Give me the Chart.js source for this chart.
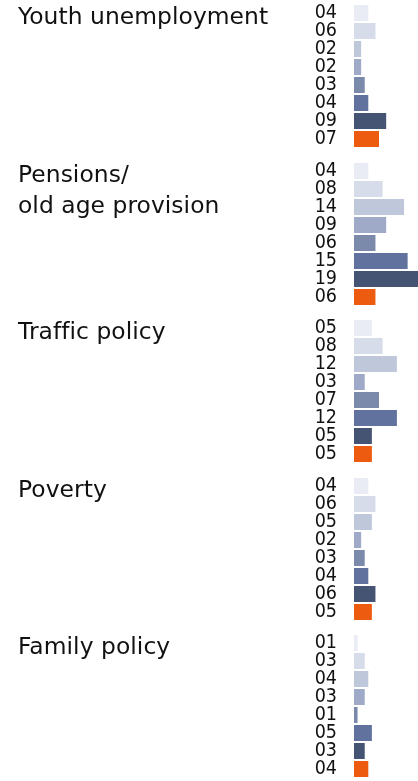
<!DOCTYPE html>
<html>
<head>
<meta charset="utf-8">
<script src="https://cdn.jsdelivr.net/npm/chart.js@4/dist/chart.umd.min.js"></script>
<style>
  html, body { margin: 0; padding: 0; background: #ffffff; }
  body { width: 418px; height: 781px; position: relative; overflow: hidden; }
  .panel { position: absolute; left: 0; width: 418px; height: 144px; }
  .panel canvas { display: block; }
</style>
</head>
<body>
<div class="panel" style="top:4px"><canvas id="c0" width="418" height="144"></canvas></div>
<div class="panel" style="top:162px"><canvas id="c1" width="418" height="144"></canvas></div>
<div class="panel" style="top:319px"><canvas id="c2" width="418" height="144"></canvas></div>
<div class="panel" style="top:477px"><canvas id="c3" width="418" height="144"></canvas></div>
<div class="panel" style="top:634px"><canvas id="c4" width="418" height="144"></canvas></div>
<script>
// Topic titles (one entry per text line)
const topics = [
  ["Youth unemployment"],
  ["Pensions/", "old age provision"],
  ["Traffic policy"],
  ["Poverty"],
  ["Family policy"]
];

// Share per respondent group, one array per topic
const youthUnemployment = [4, 6, 2, 2, 3, 4, 9, 7];
const pensions          = [4, 8, 14, 9, 6, 15, 19, 6];
const trafficPolicy     = [5, 8, 12, 3, 7, 12, 5, 5];
const poverty           = [4, 6, 5, 2, 3, 4, 6, 5];
const familyPolicy      = [1, 3, 4, 3, 1, 5, 3, 4];

const topicValues = [youthUnemployment, pensions, trafficPolicy, poverty, familyPolicy];

// Bar fills: light-to-dark blue ramp, last group highlighted in orange
const barColors = ["#e9ecf4", "#d6dce9", "#bfc8db", "#9eaac7", "#7b89ab", "#60729d", "#465474", "#ec5b10"];

const FONT = "'DejaVu Sans', Verdana, sans-serif";
const NUM_FONT = "'DejaVu Sans Condensed', 'DejaVu Sans', sans-serif";

// Writes the topic title to the left of each bar block
const topicTitle = {
  id: "topicTitle",
  afterDraw(chart, args, opts) {
    const ctx = chart.ctx;
    const y0 = chart.scales.y.getPixelForValue(0);
    ctx.save();
    ctx.fillStyle = "#111111";
    ctx.font = "23.4px " + FONT;
    ctx.letterSpacing = "0.05px"; // keeps "ff"/"ffi" as separate glyphs
    ctx.textAlign = "left";
    ctx.textBaseline = "alphabetic";
    opts.lines.forEach((line, i) => {
      ctx.fillText(line, 18, y0 + 10.5 + i * 31);
    });
    ctx.restore();
  }
};

topicValues.forEach((values, k) => {
  new Chart(document.getElementById("c" + k), {
    type: "bar",
    data: {
      labels: values.map((v, i) => String(i)),
      datasets: [{
        data: values,
        backgroundColor: barColors,
        borderWidth: 0,
        barPercentage: 0.89,
        categoryPercentage: 1.0
      }]
    },
    options: {
      indexAxis: "y",
      responsive: false,
      maintainAspectRatio: false,
      animation: false,
      devicePixelRatio: 1,
      layout: { padding: 0 },
      plugins: {
        legend: { display: false },
        tooltip: { enabled: false },
        topicTitle: { lines: topics[k] }
      },
      scales: {
        x: {
          display: false,
          min: 0,
          max: 17.9
        },
        y: {
          grid: { display: false, drawTicks: false },
          border: { display: false },
          afterFit(scale) {
            scale.width = 354;
            scale.paddingTop = 0;
            scale.paddingBottom = 0;
          },
          ticks: {
            autoSkip: false,
            padding: 17,
            color: "#111111",
            font: { family: NUM_FONT, size: 19.5, lineHeight: 1 },
            callback(value, index) {
              return String(values[index]).padStart(2, "0");
            }
          }
        }
      }
    },
    plugins: [topicTitle]
  });
});
</script>
</body>
</html>
